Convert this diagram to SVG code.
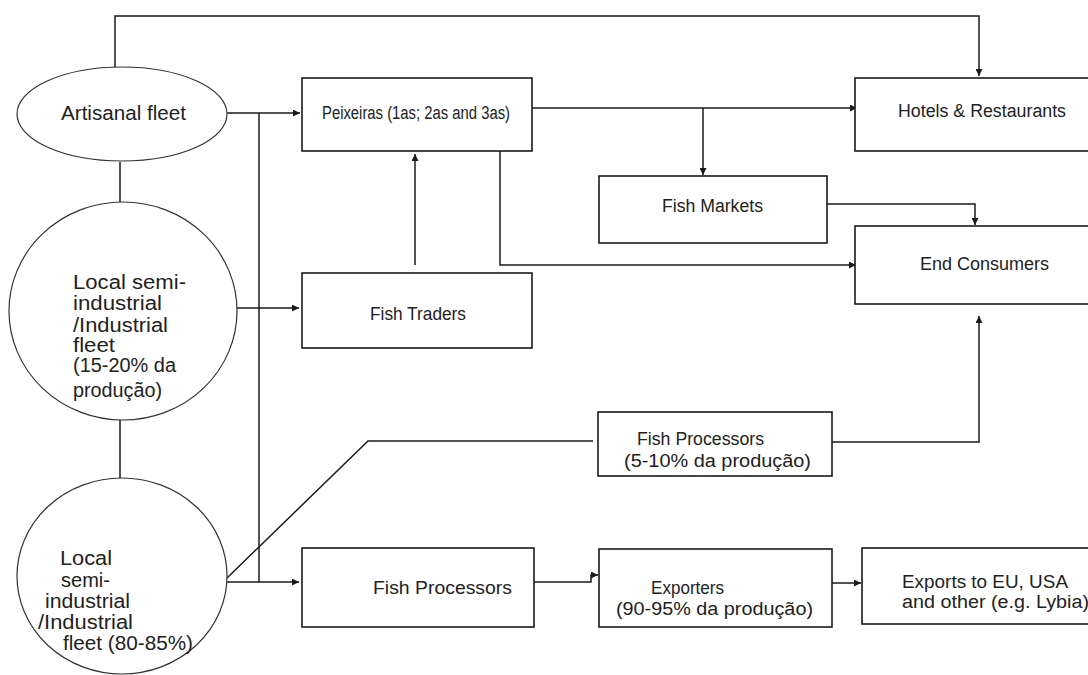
<svg xmlns="http://www.w3.org/2000/svg" width="1088" height="675" viewBox="0 0 1088 675">
<defs>
<marker id="ah" viewBox="0 0 10 10" refX="10" refY="5" markerWidth="7" markerHeight="7" markerUnits="userSpaceOnUse" orient="auto">
<path d="M0,0 L10,5 L0,10 z" fill="#1a1a1a"/>
</marker>
<style>
.box{fill:#fff;stroke:#1a1a1a;stroke-width:1.6}
.oval{fill:#fff;stroke:#333;stroke-width:1.2}
.ln{fill:none;stroke:#1a1a1a;stroke-width:1.5}
.ar{marker-end:url(#ah)}
text{font-family:"Liberation Sans",Arial,sans-serif;fill:#222;font-size:18px}
.big{font-size:20px}
</style>
</defs>
<rect width="1088" height="675" fill="#fff"/>
<g id="connectors">
<path class="ln ar" d="M115,67 V16 H979 V76"/>
<path class="ln" d="M120,162 V202"/>
<path class="ln" d="M120,420 V478"/>
<path class="ln ar" d="M227,113 H300"/>
<path class="ln" d="M259,113 V582"/>
<path class="ln ar" d="M235,308 H299"/>
<path class="ln ar" d="M227,582 H299"/>
<path class="ln" d="M227,578 L368,441 H593"/>
<path class="ln ar" d="M532,108 H857"/>
<path class="ln ar" d="M703,108 V175"/>
<path class="ln ar" d="M500,151 V265 H856"/>
<path class="ln ar" d="M415,265 V154"/>
<path class="ln ar" d="M827,204 H975 V225"/>
<path class="ln ar" d="M832,442 H979 V316"/>
<path class="ln ar" d="M534,582 H591 V575 H598"/>
<path class="ln ar" d="M832,583 H861"/>
</g>
<g id="artisanal">
<ellipse class="oval" cx="122" cy="114" rx="105" ry="47"/>
<text class="big" x="61" y="120" textLength="125" lengthAdjust="spacingAndGlyphs">Artisanal fleet</text>
</g>
<g id="semi-industrial-1">
<ellipse class="oval" cx="123" cy="311" rx="114" ry="109"/>
<text class="big" x="73" y="289" textLength="113" lengthAdjust="spacingAndGlyphs">Local semi-</text>
<text class="big" x="73" y="310" textLength="89" lengthAdjust="spacingAndGlyphs">industrial</text>
<text class="big" x="73" y="332" textLength="95" lengthAdjust="spacingAndGlyphs">/Industrial</text>
<text class="big" x="73" y="352" textLength="42" lengthAdjust="spacingAndGlyphs">fleet</text>
<text class="big" x="73" y="372" textLength="103" lengthAdjust="spacingAndGlyphs">(15-20% da</text>
<text class="big" x="73" y="397" textLength="89" lengthAdjust="spacingAndGlyphs">produção)</text>
</g>
<g id="semi-industrial-2">
<ellipse class="oval" cx="122" cy="576" rx="105" ry="98"/>
<text class="big" x="60" y="565" textLength="52" lengthAdjust="spacingAndGlyphs">Local</text>
<text class="big" x="61" y="587" textLength="49" lengthAdjust="spacingAndGlyphs">semi-</text>
<text class="big" x="45" y="608" textLength="85" lengthAdjust="spacingAndGlyphs">industrial</text>
<text class="big" x="38" y="629" textLength="95" lengthAdjust="spacingAndGlyphs">/Industrial</text>
<text class="big" x="63" y="650" textLength="130" lengthAdjust="spacingAndGlyphs">fleet (80-85%)</text>
</g>
<g id="peixeiras">
<rect class="box" x="302" y="78" width="230" height="73"/>
<text x="322" y="119" textLength="188" lengthAdjust="spacingAndGlyphs">Peixeiras (1as; 2as and 3as)</text>
</g>
<g id="hotels">
<rect class="box" x="855" y="78" width="245" height="73"/>
<text x="898" y="117" textLength="168" lengthAdjust="spacingAndGlyphs">Hotels &amp; Restaurants</text>
</g>
<g id="fish-markets">
<rect class="box" x="599" y="176" width="228" height="67"/>
<text x="662" y="212" textLength="101" lengthAdjust="spacingAndGlyphs">Fish Markets</text>
</g>
<g id="end-consumers">
<rect class="box" x="855" y="226" width="245" height="78"/>
<text x="920" y="270" textLength="129" lengthAdjust="spacingAndGlyphs">End Consumers</text>
</g>
<g id="fish-traders">
<rect class="box" x="302" y="273" width="230" height="75"/>
<text x="370" y="320" textLength="96" lengthAdjust="spacingAndGlyphs">Fish Traders</text>
</g>
<g id="fish-processors-local">
<rect class="box" x="598" y="412" width="234" height="64"/>
<text x="637" y="445" textLength="127" lengthAdjust="spacingAndGlyphs">Fish Processors</text>
<text x="624" y="467" textLength="187" lengthAdjust="spacingAndGlyphs">(5-10% da produção)</text>
</g>
<g id="fish-processors">
<rect class="box" x="302" y="548" width="232" height="79"/>
<text x="373" y="594" textLength="139" lengthAdjust="spacingAndGlyphs">Fish Processors</text>
</g>
<g id="exporters">
<rect class="box" x="599" y="549" width="233" height="78"/>
<text x="651" y="594" textLength="73" lengthAdjust="spacingAndGlyphs">Exporters</text>
<text x="616" y="615" textLength="197" lengthAdjust="spacingAndGlyphs">(90-95% da produção)</text>
</g>
<g id="exports">
<rect class="box" x="862" y="548" width="240" height="76"/>
<text x="902" y="588" textLength="166" lengthAdjust="spacingAndGlyphs">Exports to EU, USA</text>
<text x="902" y="608" textLength="187" lengthAdjust="spacingAndGlyphs">and other (e.g. Lybia)</text>
</g>
</svg>
